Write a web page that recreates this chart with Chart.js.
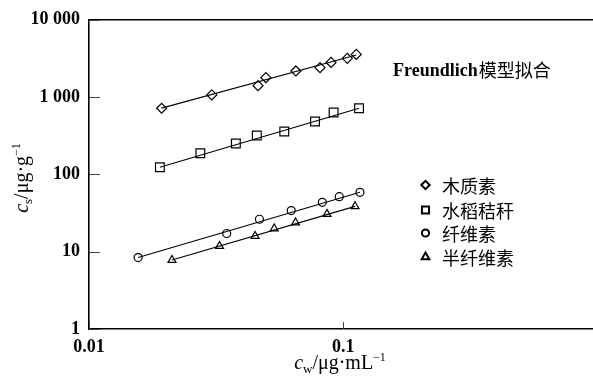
<!DOCTYPE html>
<html><head><meta charset="utf-8">
<script src="https://cdn.jsdelivr.net/npm/chart.js@4.4.0/dist/chart.umd.min.js"></script>
<style>
html,body{margin:0;padding:0;overflow:hidden;background:#fff;width:593px;height:381px}
#clip{width:593px;height:381px;overflow:hidden;position:relative}
#c{position:absolute;left:0;top:0}
</style></head>
<body><div id="clip"><canvas id="c" width="605" height="381"></canvas></div>
<script>
// ---- data ----
const xTicks = [0.01, 0.1, 1];
const xTickLabels = ['0.01', '0.1', '1'];
const xAxisMin = 0.01;
const xAxisMax = 1;
const yTicks = [1, 10, 100, 1000, 10000];
const yTickLabels = ['1', '10', '100', '1 000', '10 000'];
const seriesNames = ['木质素', '水稻秸秆', '纤维素', '半纤维素'];

const ligninX = [0.0193, 0.0304, 0.0462, 0.0496, 0.0651, 0.0810, 0.0895, 0.1037, 0.1125];
const ligninY = [717, 1068, 1407, 1785, 2178, 2402, 2813, 3170, 3566];
const strawX = [0.0190, 0.0274, 0.0378, 0.0457, 0.0586, 0.0774, 0.0916, 0.1153];
const strawY = [124, 188, 251, 319, 359, 483, 631, 717];
const celluloseX = [0.0156, 0.0348, 0.0468, 0.0624, 0.0827, 0.0964, 0.1163];
const celluloseY = [8.4, 17.2, 26.3, 34.0, 43.5, 51.5, 58.6];
const hemiX = [0.0212, 0.0326, 0.0450, 0.0535, 0.0649, 0.0863, 0.1112];
const hemiY = [7.8, 11.8, 15.9, 19.9, 23.8, 30.7, 38.6];

// fitted Freundlich lines (end points)
const ligninFitX = [0.0193, 0.1125];
const ligninFitY = [720, 3500];
const strawFitX = [0.0190, 0.1153];
const strawFitY = [124, 717];
const celluloseFitX = [0.0156, 0.1163];
const celluloseFitY = [8.4, 58.6];
const hemiFitX = [0.0212, 0.1112];
const hemiFitY = [7.8, 38.6];

const annotationText = ['Freundlich', '模型拟合'];

// ---- build ----
const pts = (xs, ys) => xs.map((v, i) => ({x: v, y: ys[i]}));
const styles = [
  {pointStyle: 'rectRot', radius: 5},
  {pointStyle: 'rect', radius: 6.2},
  {pointStyle: 'circle', radius: 4},
  {pointStyle: 'triangle', radius: 4.6}
];
const pointSets = [[ligninX, ligninY], [strawX, strawY], [celluloseX, celluloseY], [hemiX, hemiY]];
const fitSets = [[ligninFitX, ligninFitY], [strawFitX, strawFitY], [celluloseFitX, celluloseFitY], [hemiFitX, hemiFitY]];

const datasets = [];
fitSets.forEach((s, i) => datasets.push({
  label: seriesNames[i] + ' fit', data: pts(s[0], s[1]), showLine: true,
  borderColor: '#000', borderWidth: 1.1, pointRadius: 0, fill: false
}));
pointSets.forEach((s, i) => datasets.push({
  label: seriesNames[i], data: pts(s[0], s[1]), showLine: false,
  pointStyle: styles[i].pointStyle, pointRadius: styles[i].radius,
  pointBackgroundColor: '#fff', pointBorderColor: '#000', pointBorderWidth: 1.2
}));

const serif = "'Liberation Serif', 'Times New Roman', serif";
const cjk = "'Noto Sans CJK SC', sans-serif";
const lastX = xTicks[xTicks.length - 1];

function drawRich(ctx, parts, x, y, rot) {
  ctx.save();
  ctx.translate(x, y);
  ctx.rotate(rot);
  let w = 0;
  parts.forEach(p => { ctx.font = p.font; p.w = ctx.measureText(p.t).width; w += p.w; });
  let cx = -w / 2;
  ctx.textBaseline = 'alphabetic';
  ctx.textAlign = 'left';
  ctx.fillStyle = '#000';
  parts.forEach(p => { ctx.font = p.font; ctx.fillText(p.t, cx, p.dy); cx += p.w; });
  ctx.restore();
}

const overlay = {
  id: 'overlay',
  afterDraw(chart) {
    const {ctx, chartArea: a, scales: {x, y}} = chart;
    ctx.save();
    // top frame line
    ctx.strokeStyle = '#000';
    ctx.lineWidth = 1.6;
    ctx.beginPath(); ctx.moveTo(a.left - 0.8, a.top); ctx.lineTo(a.right + 2, a.top); ctx.stroke();
    // inward tick marks
    ctx.lineWidth = 1;
    ctx.strokeStyle = '#444';
    yTicks.forEach(v => {
      const py = Math.round(y.getPixelForValue(v)) + 0.5;
      ctx.beginPath(); ctx.moveTo(a.left, py); ctx.lineTo(a.left + 11, py); ctx.stroke();
    });
    xTicks.forEach(v => {
      const px = Math.round(x.getPixelForValue(v)) + 0.5;
      ctx.beginPath(); ctx.moveTo(px, a.bottom); ctx.lineTo(px, a.bottom - 7); ctx.stroke();
    });
    // last x tick label, drawn here so it may run past the picture edge
    ctx.fillStyle = '#000';
    ctx.font = 'bold 18px ' + serif;
    ctx.textAlign = 'center';
    ctx.textBaseline = 'middle';
    ctx.fillText(xTickLabels[xTickLabels.length - 1], x.getPixelForValue(lastX), a.bottom + 18);
    // axis titles
    drawRich(ctx, [
      {t: 'c', font: 'italic 20px ' + serif, dy: 0},
      {t: 'w', font: '13px ' + serif, dy: 4},
      {t: '/μg·mL', font: '20px ' + serif, dy: 0},
      {t: '−1', font: '12px ' + serif, dy: -8}
    ], 340, 369, 0);
    drawRich(ctx, [
      {t: 'c', font: 'italic 20px ' + serif, dy: 0},
      {t: 's', font: '13px ' + serif, dy: 4},
      {t: '/μg·g', font: '20px ' + serif, dy: 0},
      {t: '−1', font: '12px ' + serif, dy: -8}
    ], 27.5, 178, -Math.PI / 2);
    // annotation
    ctx.fillStyle = '#000';
    ctx.textBaseline = 'middle';
    ctx.textAlign = 'left';
    ctx.font = 'bold 18px ' + serif;
    ctx.fillText(annotationText[0], 393, 71);
    const w0 = ctx.measureText(annotationText[0]).width;
    ctx.font = '18px ' + cjk;
    ctx.fillText(annotationText[1], 393 + w0 + 1, 70);
    // legend
    const rows = [185, 210, 233, 257];
    const legR = [4.2, 5, 3.6, 4.4];
    seriesNames.forEach((n, i) => {
      ctx.strokeStyle = '#000';
      ctx.fillStyle = '#fff';
      ctx.lineWidth = 2;
      Chart.helpers.drawPoint(ctx, {pointStyle: styles[i].pointStyle, radius: legR[i], borderWidth: 2, rotation: 0}, 425.5, rows[i]);
      ctx.fillStyle = '#000';
      ctx.font = '18px ' + cjk;
      ctx.textBaseline = 'middle';
      ctx.fillText(n, 442, rows[i] + 1);
    });
    ctx.restore();
  }
};

new Chart(document.getElementById('c'), {
  type: 'scatter',
  data: {datasets},
  options: {
    responsive: false,
    animation: false,
    devicePixelRatio: 1,
    layout: {padding: {top: 18.2, right: 0, left: 0, bottom: 0}},
    plugins: {legend: {display: false}, tooltip: {enabled: false}},
    scales: {
      x: {
        type: 'logarithmic', min: xAxisMin, max: xAxisMax,
        afterBuildTicks: s => { s.ticks = xTicks.map(v => ({value: v})); },
        afterFit: s => { s.height = 52; s.paddingRight = 0; },
        ticks: {
          autoSkip: false, maxRotation: 0, padding: 8, color: '#000',
          font: {family: serif, size: 18, weight: 'bold'},
          callback: (v) => {
            if (Math.abs(v - lastX) < 1e-9) return '';
            const i = xTicks.findIndex(t => Math.abs(t - v) < 1e-9);
            return i >= 0 ? xTickLabels[i] : '';
          }
        },
        grid: {display: false, drawTicks: false},
        border: {display: true, color: '#000', width: 1.6}
      },
      y: {
        type: 'logarithmic', min: 1, max: 10000,
        afterBuildTicks: s => { s.ticks = yTicks.map(v => ({value: v})); },
        afterFit: s => { s.width = 89; },
        ticks: {
          autoSkip: false, padding: 9, color: '#000',
          font: {family: serif, size: 18, weight: 'bold'},
          callback: (v) => { const i = yTicks.findIndex(t => Math.abs(t - v) < 1e-9); return i >= 0 ? yTickLabels[i] : ''; }
        },
        grid: {display: false, drawTicks: false},
        border: {display: true, color: '#000', width: 1.6}
      }
    }
  },
  plugins: [overlay]
});
</script>
</body></html>
